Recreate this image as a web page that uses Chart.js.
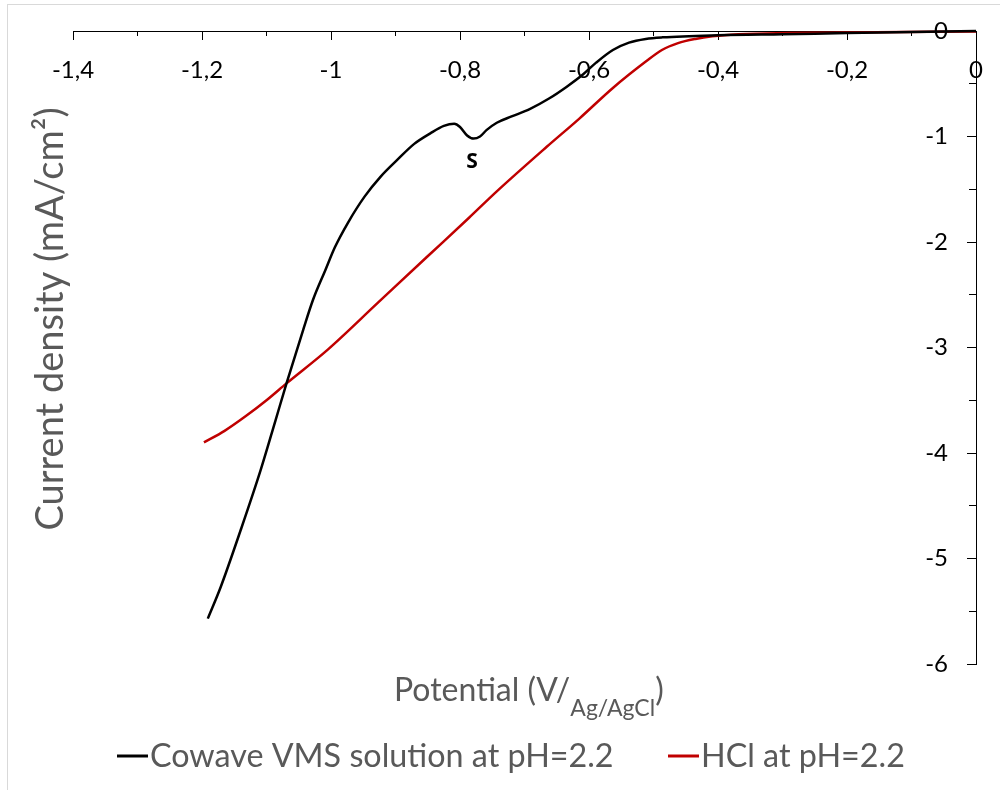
<!DOCTYPE html>
<html>
<head>
<meta charset="utf-8">
<title>Polarisation curves</title>
<script src="https://cdn.jsdelivr.net/npm/chart.js@4.4.1/dist/chart.umd.min.js"></script>
<style>
    html, body { margin: 0; padding: 0; background: #fff; overflow: hidden; }
    #wrap { position: relative; width: 1000px; height: 790px; }
    #frame { position: absolute; left: 7px; top: 4px; width: 1100px; height: 900px; border: 1px solid #d9d9d9; box-sizing: border-box; }
    #wrap canvas { position: absolute; left: 0; top: 0; }
</style>
</head>
<body>
<div id="wrap">
    <div id="frame"></div>
    <canvas id="chart" width="1000" height="790"></canvas>
</div>
<script>
// Cowave VMS solution at pH=2.2 (potential V, current density mA/cm2)
const cowaveV = [-1.191, -1.171, -1.140, -1.109, -1.086, -1.069, -1.043, -1.028, -1.009, -0.994,
    -0.974, -0.948, -0.923, -0.897, -0.871, -0.846, -0.825, -0.809, -0.800, -0.789,
    -0.779, -0.769, -0.759, -0.743, -0.720, -0.692, -0.662, -0.635, -0.609, -0.589,
    -0.563, -0.538, -0.512, -0.486, -0.40, -0.30, -0.20, -0.10, 0];
const cowaveJ = [-5.57, -5.27, -4.73, -4.16, -3.69, -3.34, -2.83, -2.55, -2.27, -2.05,
    -1.82, -1.57, -1.38, -1.22, -1.07, -0.97, -0.90, -0.88, -0.91, -0.99,
    -1.02, -1.00, -0.94, -0.87, -0.81, -0.74, -0.64, -0.53, -0.41, -0.30,
    -0.18, -0.11, -0.075, -0.06, -0.04, -0.03, -0.02, -0.01, 0];

// HCl at pH=2.2
const hclV = [-1.197, -1.165, -1.132, -1.100, -1.069, -1.005, -0.928, -0.851, -0.786, -0.743,
    -0.666, -0.615, -0.563, -0.512, -0.487, -0.462, -0.435, -0.409, -0.380, -0.20, 0];
const hclJ = [-3.90, -3.79, -3.65, -3.50, -3.34, -3.02, -2.58, -2.14, -1.77, -1.52,
    -1.10, -0.83, -0.54, -0.29, -0.18, -0.115, -0.075, -0.05, -0.035, -0.015, -0.005];

const seriesNames = ['Cowave VMS solution at pH=2.2', 'HCl at pH=2.2'];

const xTicks = [-1.4, -1.2, -1, -0.8, -0.6, -0.4, -0.2, 0];
const xTickLabels = ['-1,4', '-1,2', '-1', '-0,8', '-0,6', '-0,4', '-0,2', '0'];
const yTicks = [0, -1, -2, -3, -4, -5, -6];
const yTickLabels = ['0', '-1', '-2', '-3', '-4', '-5', '-6'];

// peak marker near -0.78 V
const peakLabel = { text: 'S', x: -0.7815, y: -1.242 };

const textGrey = '#595959';

function toPoints(xs, ys) {
    return xs.map((v, i) => ({ x: v, y: ys[i] }));
}

// text that Chart.js cannot place by itself (inside labels, titles, legend)
const textPlugin = {
    id: 'textPlugin',
    afterDraw(chart) {
        const { ctx, scales } = chart;
        const xs = scales.x, ys = scales.y;
        const axisX = xs.getPixelForValue(0);
        ctx.save();

        // y tick labels, left of the axis
        ctx.font = '24px Lato';
        ctx.fillStyle = '#000';
        ctx.textAlign = 'right';
        ctx.textBaseline = 'middle';
        yTicks.forEach((v, i) => {
            ctx.fillText(yTickLabels[i], axisX - 28, ys.getPixelForValue(v));
        });

        // S marker
        ctx.font = 'bold 21px "Open Sans"';
        ctx.textAlign = 'center';
        ctx.fillText(peakLabel.text, xs.getPixelForValue(peakLabel.x), ys.getPixelForValue(peakLabel.y));

        // y title
        ctx.fillStyle = textGrey;
        ctx.save();
        ctx.translate(63, 319);
        ctx.rotate(-Math.PI / 2);
        ctx.font = '38px Lato';
        ctx.textAlign = 'center';
        ctx.textBaseline = 'alphabetic';
        ctx.fillText('Current density (mA/cm²)', 0, 0);
        ctx.restore();

        // x title with subscript
        ctx.textAlign = 'left';
        ctx.textBaseline = 'alphabetic';
        let tx = 394;
        ctx.font = '32px Lato';
        ctx.fillText('Potential (V/', tx, 701);
        tx += ctx.measureText('Potential (V/').width;
        ctx.font = '23px Lato';
        ctx.fillText('Ag/AgCl', tx, 716);
        tx += ctx.measureText('Ag/AgCl').width;
        ctx.font = '32px Lato';
        ctx.fillText(')', tx, 701);

        // legend
        const legendX = [117, 668];
        chart.data.datasets.forEach((ds, i) => {
            const lx = legendX[i];
            ctx.strokeStyle = ds.borderColor;
            ctx.lineWidth = 3;
            ctx.beginPath();
            ctx.moveTo(lx, 756);
            ctx.lineTo(lx + 31, 756);
            ctx.stroke();
            ctx.fillStyle = textGrey;
            ctx.font = '32.3px Lato';
            ctx.fillText(ds.label, lx + 33, 767);
        });

        ctx.restore();
    }
};

const ctx = document.getElementById('chart').getContext('2d');

new Chart(ctx, {
    type: 'line',
    data: {
        datasets: [
            {
                label: seriesNames[0],
                data: toPoints(cowaveV, cowaveJ),
                borderColor: '#000000',
                borderWidth: 2.5,
                pointRadius: 0,
                cubicInterpolationMode: 'monotone',
                clip: false
            },
            {
                label: seriesNames[1],
                data: toPoints(hclV, hclJ),
                borderColor: '#c00000',
                borderWidth: 2.5,
                pointRadius: 0,
                cubicInterpolationMode: 'monotone',
                clip: false
            }
        ]
    },
    options: {
        responsive: false,
        animation: false,
        layout: {
            padding: { left: 73, right: 17, top: 31, bottom: 126 }
        },
        plugins: {
            legend: { display: false },
            tooltip: { enabled: false }
        },
        scales: {
            x: {
                type: 'linear',
                position: { y: 0 },
                min: -1.4,
                max: 0,
                afterBuildTicks: scale => {
                    scale.ticks = xTicks.map(v => ({ value: v }));
                },
                ticks: {
                    color: '#000',
                    font: { family: 'Lato', size: 24 },
                    padding: 17,
                    autoSkip: false,
                    maxRotation: 0,
                    callback: (value, index) => xTickLabels[index]
                },
                grid: {
                    drawOnChartArea: false,
                    tickLength: 8,
                    tickColor: '#000'
                },
                border: { color: '#000', width: 1 }
            },
            x2: {
                type: 'linear',
                axis: 'x',
                position: { y: 0 },
                min: -1.4,
                max: 0,
                ticks: { display: false, stepSize: 0.1 },
                grid: {
                    drawOnChartArea: false,
                    tickLength: 5,
                    tickColor: '#000'
                },
                border: { display: false }
            },
            y: {
                type: 'linear',
                position: { x: 0 },
                min: -6,
                max: 0,
                afterBuildTicks: scale => {
                    scale.ticks = yTicks.map(v => ({ value: v }));
                },
                ticks: { display: false },
                grid: {
                    drawOnChartArea: false,
                    tickLength: 9,
                    tickColor: '#000'
                },
                border: { color: '#000', width: 1 }
            },
            y2: {
                type: 'linear',
                axis: 'y',
                position: { x: 0 },
                min: -6,
                max: 0,
                ticks: { display: false, stepSize: 0.5 },
                grid: {
                    drawOnChartArea: false,
                    tickLength: 7,
                    tickColor: '#000'
                },
                border: { display: false }
            }
        }
    },
    plugins: [textPlugin]
});
</script>
</body>
</html>
